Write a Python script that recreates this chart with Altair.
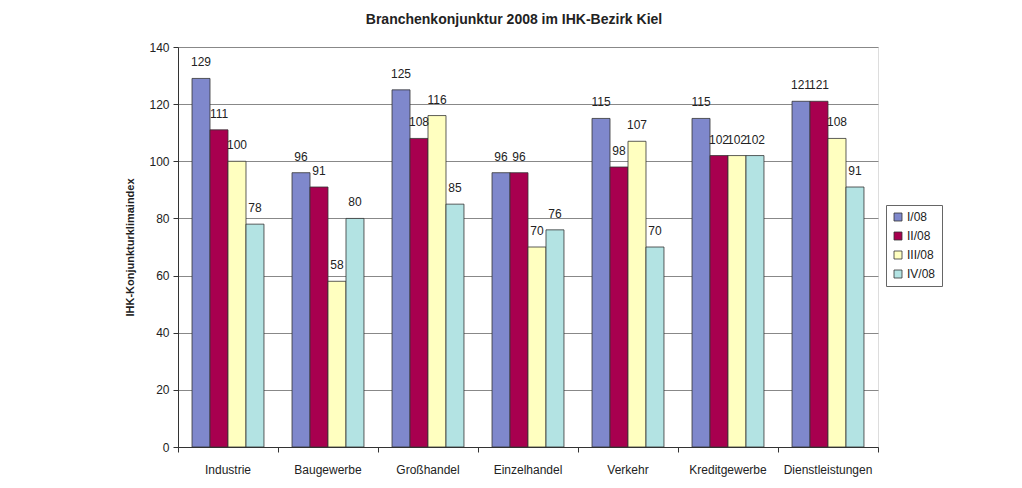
import altair as alt
import pandas as pd

branchen = ["Industrie", "Baugewerbe", "Großhandel", "Einzelhandel", "Verkehr", "Kreditgewerbe", "Dienstleistungen"]
quartale = ["I/08", "II/08", "III/08", "IV/08"]
q1 = [129, 96, 125, 96, 115, 115, 121]
q2 = [111, 91, 108, 96, 98, 102, 121]
q3 = [100, 58, 116, 70, 107, 102, 108]
q4 = [78, 80, 85, 76, 70, 102, 91]
farben = ["#7f88cc", "#a8004f", "#ffffc0", "#b3e3e3"]

rows = []
for series_name, vals in zip(quartale, [q1, q2, q3, q4]):
    for b, v in zip(branchen, vals):
        rows.append({"Branche": b, "Quartal": series_name, "Wert": v})
df = pd.DataFrame(rows)

FONT = "Liberation Sans"

x = alt.X("Branche:N", sort=branchen,
          scale=alt.Scale(paddingInner=0, paddingOuter=0),
          axis=alt.Axis(title=None, labelAngle=0, bandPosition=1, tickExtra=True,
                        labelPadding=12, labelFontSize=12,
                        labelFont=FONT, labelColor="#222", tickSize=5,
                        domainColor="#333", tickColor="#333", grid=False))
xoff = alt.XOffset("Quartal:N", sort=quartale,
                   scale=alt.Scale(paddingInner=0, paddingOuter=0.78))
y = alt.Y("Wert:Q", scale=alt.Scale(domain=[0, 140], nice=False),
          axis=alt.Axis(values=list(range(0, 141, 20)), title="IHK-Konjunkturklimaindex",
                        titleFont=FONT, titleFontSize=11, titleFontWeight="bold",
                        titleColor="#222", titleX=-48, titleY=200, titleAngle=-90,
                        titleAlign="center", titleBaseline="middle",
                        labelFont=FONT, labelFontSize=12, labelColor="#222",
                        labelPadding=4, tickSize=5, domainColor="#333", tickColor="#333",
                        gridColor="#888", gridWidth=1))

bars = alt.Chart(df).mark_bar(stroke="#333", strokeWidth=0.8).encode(
    x=x, xOffset=xoff, y=y,
    color=alt.Color("Quartal:N", sort=quartale,
                    scale=alt.Scale(domain=quartale, range=farben),
                    legend=alt.Legend(title=None, orient="none", legendX=708, legendY=158,
                                      symbolType="square", symbolSize=64,
                                      symbolStrokeColor="#333", symbolStrokeWidth=0.8,
                                      labelFont=FONT, labelFontSize=12, labelColor="#222",
                                      strokeColor="#666", padding=6, rowPadding=7,
                                      labelOffset=3))
)

labels = alt.Chart(df).mark_text(dy=-9, baseline="bottom", font=FONT, fontSize=12,
                                 color="#222").encode(
    x=alt.X("Branche:N", sort=branchen), xOffset=alt.XOffset("Quartal:N", sort=quartale),
    y="Wert:Q", text="Wert:Q")

chart = (bars + labels).properties(
    width=700, height=400,
    title=alt.TitleParams("Branchenkonjunktur 2008 im IHK-Bezirk Kiel", font=FONT,
                          fontSize=14, fontWeight="bold", color="#222",
                          anchor="middle", frame="group", dx=-14, offset=14),
    autosize=alt.AutoSizeParams(type="none"),
    padding={"left": 170, "top": 39, "right": 120, "bottom": 34},
).configure_view(stroke="#999", strokeWidth=1).configure(background="white")

chart.save("out.html", embed_options={"renderer": "svg", "actions": False})
